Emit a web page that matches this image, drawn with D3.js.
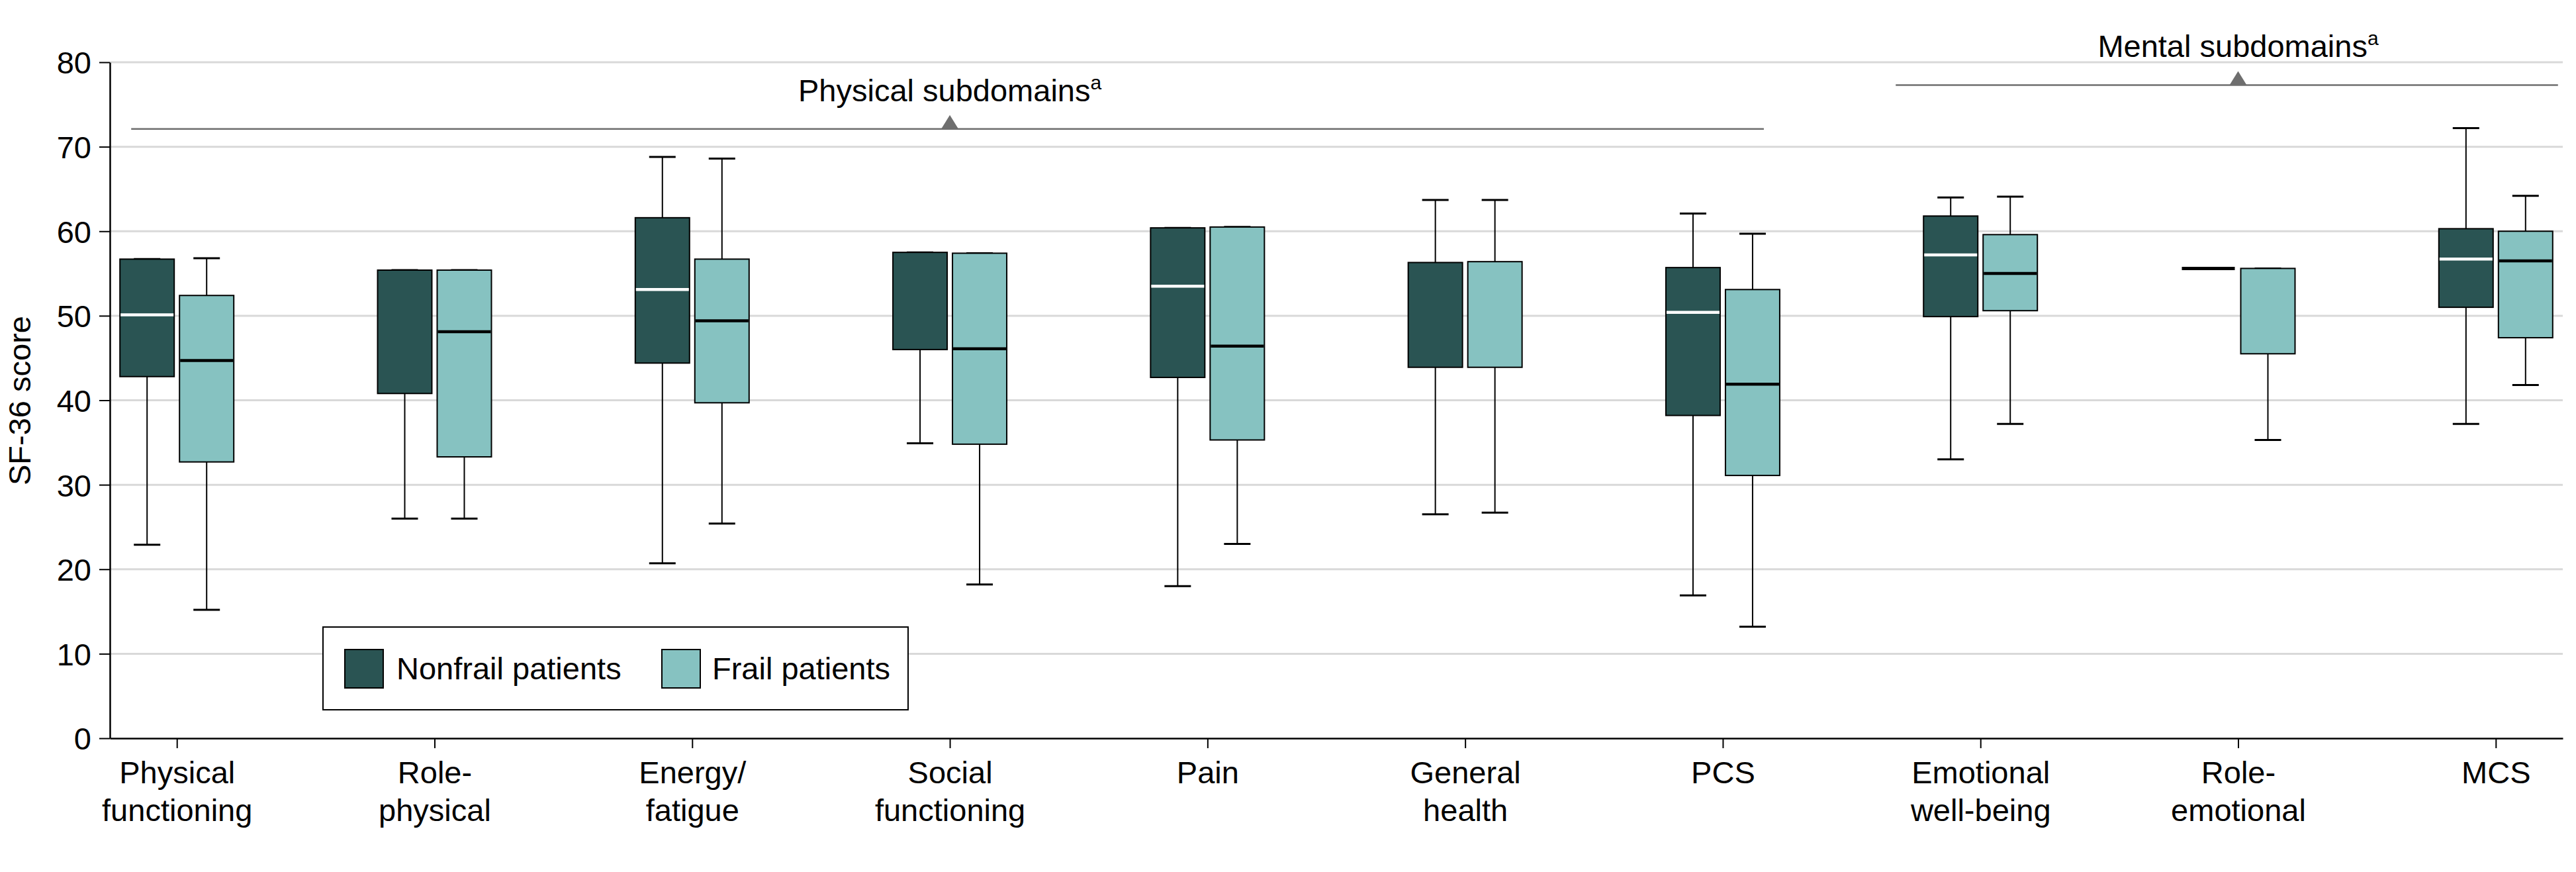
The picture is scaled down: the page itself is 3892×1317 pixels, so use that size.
<!DOCTYPE html>
<html>
<head>
<meta charset="utf-8">
<script src="https://cdn.jsdelivr.net/npm/d3@7"></script>
<style>
  html, body { margin: 0; padding: 0; background: #fff; }
  svg { display: block; font-family: "Liberation Sans", Arial, sans-serif; }
</style>
</head>
<body>
<svg id="chart" width="3892" height="1317"></svg>
<script>
// ---- Data ----
const categories = ["Physical functioning", "Role-physical", "Energy/fatigue", "Social functioning", "Pain",
  "General health", "PCS", "Emotional well-being", "Role-emotional", "MCS"];
const categoryLines = [["Physical", "functioning"], ["Role-", "physical"], ["Energy/", "fatigue"],
  ["Social", "functioning"], ["Pain"], ["General", "health"], ["PCS"], ["Emotional", "well-being"],
  ["Role-", "emotional"], ["MCS"]];
const seriesNames = ["Nonfrail patients", "Frail patients"];

const nonfrailMin    = [22.9, 26.0, 20.7, 34.9, 18.0, 26.5, 16.9, 33.0, 55.6, 37.2];
const nonfrailQ1     = [42.8, 40.8, 44.4, 46.0, 42.7, 43.9, 38.2, 49.9, 55.6, 51.0];
const nonfrailMedian = [50.1, 55.4, 53.1, 57.5, 53.5, 56.3, 50.4, 57.2, 55.6, 56.7];
const nonfrailQ3     = [56.7, 55.4, 61.6, 57.5, 60.4, 56.3, 55.7, 61.8, 55.6, 60.3];
const nonfrailMax    = [56.7, 55.4, 68.8, 57.5, 60.4, 63.7, 62.1, 64.0, 55.6, 72.2];

const frailMin    = [15.2, 26.0, 25.4, 18.2, 23.0, 26.7, 13.2, 37.2, 35.3, 41.8];
const frailQ1     = [32.7, 33.3, 39.7, 34.8, 35.3, 43.9, 31.1, 50.6, 45.5, 47.4];
const frailMedian = [44.7, 48.1, 49.4, 46.1, 46.4, 56.4, 41.9, 55.0, 55.6, 56.5];
const frailQ3     = [52.4, 55.4, 56.7, 57.4, 60.5, 56.4, 53.1, 59.6, 55.6, 60.0];
const frailMax    = [56.8, 55.4, 68.6, 57.4, 60.5, 63.7, 59.7, 64.1, 55.6, 64.2];

const yTicks = [0, 10, 20, 30, 40, 50, 60, 70, 80];
const yLabel = "SF-36 score";
const groups = [
  { label: "Physical subdomains", sup: "a", from: "Physical functioning", to: "PCS", level: 72.1 },
  { label: "Mental subdomains", sup: "a", from: "Emotional well-being", to: "MCS", level: 77.3 }
];

// ---- Layout ----
const colors = ["#2a5453", "#86c2c1"];
const medianColors = ["#ffffff", "#000000"];
const plotLeft = 166, plotRight = 3872, plotTop = 94, plotBottom = 1115;
const fontSize = 47;

const svg = d3.select("#chart");
const x = d3.scalePoint().domain(categories).range([plotLeft, plotRight]).padding(0.26);
const y = d3.scaleLinear().domain([0, 80]).range([plotBottom, plotTop]);

const boxW = 82, offset = 45, capW = 40;

// gridlines
svg.append("g").selectAll("line").data(yTicks.filter(d => d > 0)).join("line")
  .attr("x1", plotLeft).attr("x2", plotRight)
  .attr("y1", d => y(d)).attr("y2", d => y(d))
  .attr("stroke", "#d9d9d9").attr("stroke-width", 3);

// group annotations
const ann = svg.append("g");
groups.forEach((g, gi) => {
  const x0 = x(g.from), x1 = x(g.to);
  const cx = (x0 + x1) / 2;
  const ly = y(g.level);
  const ext = gi === 0 ? [69, 62] : [128, 94];
  ann.append("line").attr("x1", x0 - ext[0]).attr("x2", x1 + ext[1])
    .attr("y1", ly).attr("y2", ly).attr("stroke", "#6e6e6e").attr("stroke-width", 2.5);
  ann.append("path")
    .attr("d", `M${cx - 13},${ly} L${cx},${ly - 21} L${cx + 13},${ly} Z`)
    .attr("fill", "#6e6e6e");
  const t = ann.append("text").attr("x", cx).attr("y", ly - 42)
    .attr("text-anchor", "middle").attr("font-size", fontSize).attr("fill", "#000");
  t.append("tspan").text(g.label);
  t.append("tspan").attr("font-size", 30).attr("dy", -18).text(g.sup);
});

// box data
const series = [
  { min: nonfrailMin, q1: nonfrailQ1, med: nonfrailMedian, q3: nonfrailQ3, max: nonfrailMax },
  { min: frailMin, q1: frailQ1, med: frailMedian, q3: frailQ3, max: frailMax }
];
const boxes = [];
series.forEach((s, si) => {
  categories.forEach((c, i) => {
    boxes.push({ si, c, cx: x(c) + (si === 0 ? -offset : offset),
      min: s.min[i], q1: s.q1[i], med: s.med[i], q3: s.q3[i], max: s.max[i] });
  });
});

const bg = svg.append("g");
// whiskers
bg.selectAll("line.wl").data(boxes).join("line").attr("class", "wl")
  .attr("x1", d => d.cx).attr("x2", d => d.cx)
  .attr("y1", d => y(d.min)).attr("y2", d => y(d.q1))
  .attr("stroke", "#000").attr("stroke-width", 2);
bg.selectAll("line.wu").data(boxes).join("line").attr("class", "wu")
  .attr("x1", d => d.cx).attr("x2", d => d.cx)
  .attr("y1", d => y(d.q3)).attr("y2", d => y(d.max))
  .attr("stroke", "#000").attr("stroke-width", 2);
// caps
bg.selectAll("line.cl").data(boxes.filter(d => d.min < d.q1)).join("line").attr("class", "cl")
  .attr("x1", d => d.cx - capW / 2).attr("x2", d => d.cx + capW / 2)
  .attr("y1", d => y(d.min)).attr("y2", d => y(d.min))
  .attr("stroke", "#000").attr("stroke-width", 3);
bg.selectAll("line.cu").data(boxes.filter(d => !(d.min === d.max))).join("line").attr("class", "cu")
  .attr("x1", d => d.cx - capW / 2).attr("x2", d => d.cx + capW / 2)
  .attr("y1", d => y(d.max)).attr("y2", d => y(d.max))
  .attr("stroke", "#000").attr("stroke-width", 3);
// boxes
bg.selectAll("rect.box").data(boxes).join("rect").attr("class", "box")
  .attr("x", d => d.cx - boxW / 2).attr("width", boxW)
  .attr("y", d => y(d.q3)).attr("height", d => y(d.q1) - y(d.q3))
  .attr("fill", d => colors[d.si]).attr("stroke", "#000").attr("stroke-width", 2);
// medians (hidden under the box edge when they coincide with a quartile)
bg.selectAll("line.med")
  .data(boxes.filter(d => d.q1 === d.q3 || (d.med > d.q1 && d.med < d.q3)))
  .join("line").attr("class", "med")
  .attr("x1", d => d.cx - boxW / 2 + 1).attr("x2", d => d.cx + boxW / 2 - 1)
  .attr("y1", d => y(d.med)).attr("y2", d => y(d.med))
  .attr("stroke", d => (d.q1 === d.q3) ? "#000" : medianColors[d.si])
  .attr("stroke-width", d => (d.q1 === d.q3) ? 5 : 4.5);

// y axis
const yAxis = svg.append("g").attr("transform", `translate(${plotLeft},0)`)
  .call(d3.axisLeft(y).tickValues(yTicks).tickSize(16).tickSizeOuter(0).tickPadding(12));
yAxis.selectAll("text").attr("font-size", fontSize).attr("font-family", "Liberation Sans, Arial, sans-serif")
  .attr("fill", "#000").attr("dy", "0.36em");
yAxis.selectAll("line").attr("stroke", "#000").attr("stroke-width", 2);
yAxis.select(".domain").attr("stroke", "#000").attr("stroke-width", 2.5);

// x axis
const xAxis = svg.append("g").attr("transform", `translate(0,${plotBottom})`)
  .call(d3.axisBottom(x).tickSize(15).tickSizeOuter(0).tickFormat(""));
xAxis.selectAll("line").attr("stroke", "#000").attr("stroke-width", 2);
xAxis.select(".domain").attr("stroke", "#000").attr("stroke-width", 2.5);
xAxis.selectAll(".tick").each(function(d, i) {
  const t = d3.select(this).select("text");
  t.attr("y", 0).attr("dy", null).attr("font-size", fontSize)
    .attr("font-family", "Liberation Sans, Arial, sans-serif").attr("fill", "#000");
  categoryLines[i].forEach((ln, li) => {
    t.append("tspan").attr("x", 0).attr("y", 68 + li * 57).text(ln);
  });
});

// y label
svg.append("text").attr("transform", `translate(46,605) rotate(-90)`)
  .attr("text-anchor", "middle").attr("font-size", fontSize).attr("fill", "#000").text(yLabel);

// legend
const lg = svg.append("g");
lg.append("rect").attr("x", 488).attr("y", 947).attr("width", 884).attr("height", 125)
  .attr("fill", "#fff").attr("stroke", "#000").attr("stroke-width", 2);
const legX = [521, 1000];
const legTextX = [599, 1076];
seriesNames.forEach((n, i) => {
  lg.append("rect").attr("x", legX[i]).attr("y", 981).attr("width", 58).attr("height", 58)
    .attr("fill", colors[i]).attr("stroke", "#000").attr("stroke-width", 2);
  lg.append("text").attr("x", legTextX[i]).attr("y", 1026).attr("font-size", fontSize)
    .attr("fill", "#000").text(n);
});
</script>
</body>
</html>
